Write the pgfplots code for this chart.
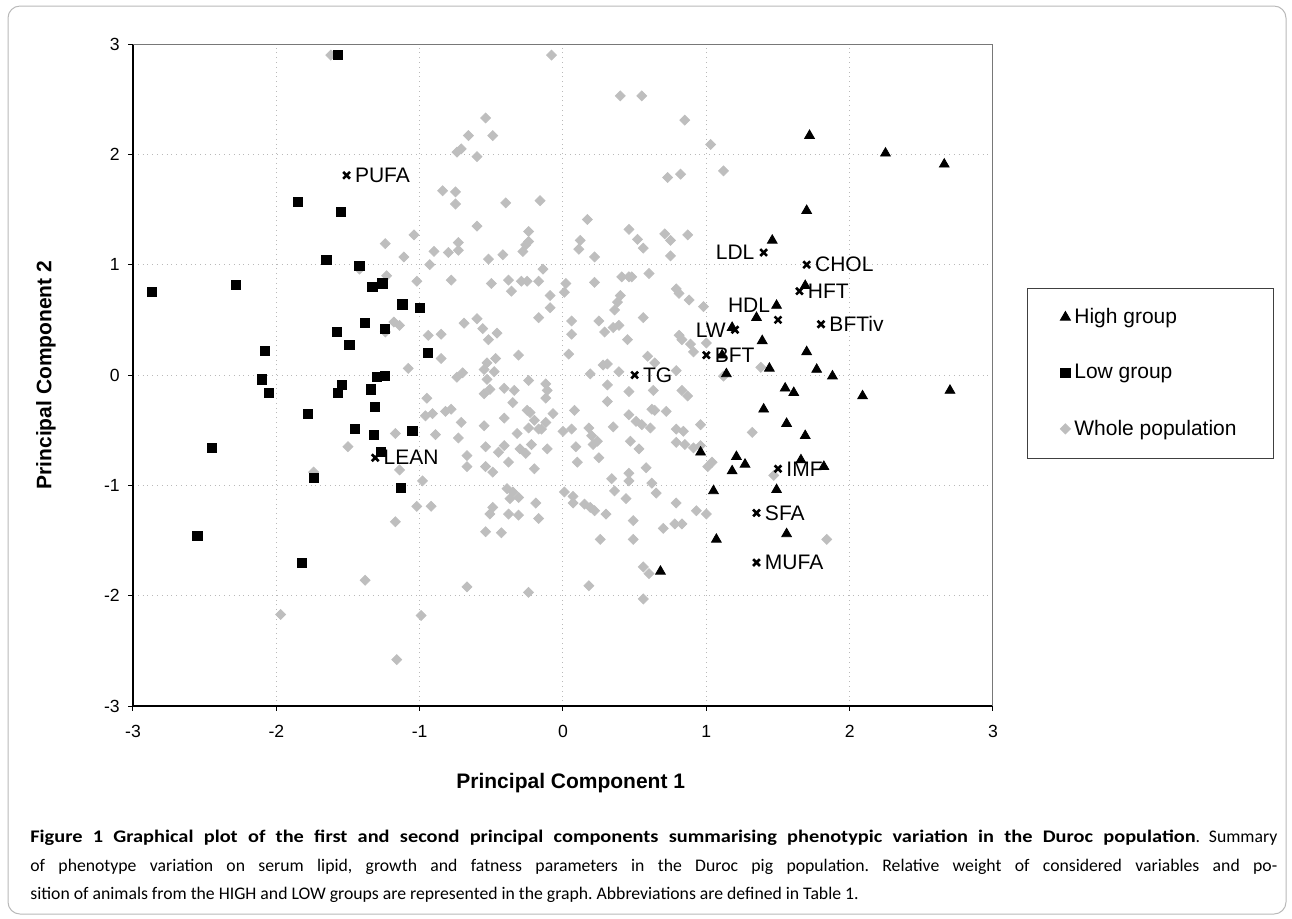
\documentclass[border=0pt]{standalone}
\usepackage{fontspec}
\setmainfont{Liberation Sans}
\newfontfamily\capfont[BoldFeatures={FakeStretch=1.15}]{Carlito}
\usepackage{pgfplots}
\pgfplotsset{compat=1.18}
\definecolor{popgray}{RGB}{190,190,190}
\definecolor{gridgray}{RGB}{185,185,185}
\definecolor{framegray}{RGB}{120,120,120}
\pgfplotsset{mylegimg/.style={legend image code/.code={\draw[##1] plot coordinates {(0pt,0pt)};}}}

\pgfplotstableread{
x y
-1.62 2.90
-0.08 2.90
-0.54 2.33
-0.66 2.17
-0.49 2.17
-0.74 2.02
-0.71 2.05
-0.60 1.98
-0.84 1.67
-0.75 1.66
-0.75 1.55
-0.40 1.56
-0.16 1.58
-0.60 1.35
-0.24 1.30
-1.24 1.19
-1.04 1.27
-1.11 1.07
-0.90 1.12
-0.93 1.00
-0.80 1.11
-0.73 1.13
-0.73 1.20
-0.52 1.05
-0.42 1.09
-0.28 1.12
-0.26 1.18
-0.24 1.21
-1.42 0.96
-1.23 0.90
-1.02 0.85
-0.78 0.86
-0.50 0.83
-0.38 0.86
-0.36 0.76
-0.29 0.85
-0.25 0.85
-0.17 0.85
-0.14 0.96
-0.09 0.72
-0.09 0.61
0.02 0.83
0.01 0.75
-0.17 0.52
-0.60 0.51
-0.69 0.47
-0.56 0.42
-0.52 0.32
-0.46 0.38
-1.18 0.48
-1.14 0.45
-1.24 0.39
-0.94 0.36
-0.85 0.37
-0.31 0.18
0.04 0.19
-0.85 0.15
-0.53 0.11
-0.47 0.15
-1.08 0.06
-0.55 0.05
-0.48 0.03
-0.74 -0.02
-0.70 0.02
-0.53 -0.04
-0.95 -0.21
-0.96 -0.37
-0.91 -0.35
-0.82 -0.33
-0.78 -0.31
-0.71 -0.43
-0.89 -0.54
-0.73 -0.57
-1.17 -0.53
-1.50 -0.65
-0.55 -0.46
-0.41 -0.39
-0.55 -0.17
-0.51 -0.13
-0.41 -0.12
-0.35 -0.25
-0.34 -0.14
-0.32 -0.53
-0.54 -0.65
-0.45 -0.70
-0.41 -0.64
-0.67 -0.73
-0.30 -0.67
-0.26 -0.71
-0.24 -0.05
-0.12 -0.08
-0.11 -0.14
-0.12 -0.21
-0.25 -0.32
-0.23 -0.34
-0.20 -0.41
-0.12 -0.43
-0.07 -0.35
-0.24 -0.48
-0.17 -0.49
-0.15 -0.49
-0.22 -0.63
-0.11 -0.67
-0.20 -0.85
-0.67 -0.83
-0.54 -0.83
-0.49 -0.88
-1.14 -0.86
-1.74 -0.88
-0.98 -0.96
-0.39 -1.03
-0.35 -1.06
-0.37 -1.12
-0.31 -1.11
-0.49 -1.20
-0.51 -1.26
-0.38 -1.26
-0.31 -1.27
-0.19 -1.16
-0.17 -1.30
0.01 -1.06
-1.02 -1.19
-0.92 -1.19
-1.17 -1.33
-0.54 -1.42
-0.43 -1.43
-1.38 -1.86
-0.67 -1.92
-0.24 -1.97
-1.97 -2.17
-0.99 -2.18
-1.16 -2.58
-0.38 -0.79
0.40 2.53
0.55 2.53
0.85 2.31
1.03 2.09
1.12 1.85
0.73 1.79
0.82 1.82
0.17 1.41
0.12 1.22
0.46 1.32
0.52 1.23
0.71 1.28
0.75 1.22
0.87 1.27
0.56 1.15
0.11 1.14
0.22 1.07
0.75 1.08
0.22 0.84
0.41 0.89
0.46 0.89
0.48 0.89
0.60 0.92
0.79 0.78
0.81 0.74
0.88 0.68
0.98 0.62
0.40 0.72
0.38 0.66
0.36 0.59
0.06 0.49
0.06 0.37
0.25 0.49
0.56 0.52
0.29 0.39
0.35 0.43
0.39 0.45
0.45 0.32
0.81 0.36
0.83 0.32
0.89 0.28
0.91 0.21
1.00 0.29
0.31 0.10
0.28 0.09
0.59 0.17
0.64 0.11
0.79 0.04
1.38 0.07
0.19 0.01
0.39 0.03
1.12 -0.01
0.31 -0.09
0.46 -0.15
0.63 -0.14
0.83 -0.14
0.87 -0.19
0.72 -0.33
0.31 -0.24
0.08 -0.32
0.00 -0.51
0.06 -0.49
0.18 -0.48
0.20 -0.55
0.24 -0.60
0.21 -0.63
0.35 -0.47
0.46 -0.36
0.51 -0.42
0.55 -0.45
0.62 -0.31
0.64 -0.32
0.61 -0.48
0.79 -0.49
0.84 -0.51
0.96 -0.45
0.47 -0.60
0.53 -0.67
0.79 -0.61
0.85 -0.63
0.91 -0.66
0.96 -0.64
0.07 -1.10
0.07 -1.16
0.15 -1.17
0.19 -1.20
0.22 -1.23
0.30 -1.26
0.10 -0.79
0.34 -0.94
0.36 -1.05
0.46 -0.89
0.46 -0.96
0.58 -0.84
0.44 -1.12
0.62 -0.98
0.65 -1.07
0.79 -1.16
0.93 -1.23
1.00 -1.26
0.49 -1.32
0.70 -1.39
0.78 -1.35
0.83 -1.35
0.26 -1.49
0.49 -1.49
0.56 -1.74
0.60 -1.80
0.18 -1.91
0.56 -2.03
1.01 -0.83
1.04 -0.79
1.32 -0.52
1.47 -0.91
1.84 -1.49
0.25 -0.75
0.09 -0.65
}\wholepop

\pgfplotstableread{
x y
-1.57 2.90
-1.85 1.57
-1.55 1.48
-1.65 1.04
-1.42 0.99
-2.87 0.75
-2.28 0.82
-1.33 0.80
-1.26 0.83
-1.12 0.64
-1.00 0.61
-1.38 0.47
-1.58 0.39
-1.24 0.42
-1.49 0.27
-2.08 0.22
-0.94 0.20
-2.10 -0.04
-2.05 -0.16
-1.54 -0.09
-1.57 -0.16
-1.30 -0.02
-1.24 -0.01
-1.34 -0.13
-1.31 -0.29
-1.78 -0.35
-1.45 -0.49
-1.32 -0.54
-1.05 -0.51
-2.45 -0.66
-1.27 -0.70
-1.74 -0.93
-1.13 -1.02
-2.55 -1.46
-1.82 -1.70
}\lowgroup

\pgfplotstableread{
x y
1.72 2.17
2.25 2.01
2.66 1.91
1.70 1.49
1.46 1.22
1.69 0.81
1.49 0.63
1.35 0.52
1.18 0.43
1.39 0.31
1.70 0.21
1.11 0.18
1.14 0.01
1.44 0.06
1.77 0.05
1.88 -0.01
1.55 -0.12
1.61 -0.16
2.09 -0.19
2.70 -0.14
1.40 -0.31
1.56 -0.44
1.69 -0.55
0.96 -0.70
1.21 -0.74
1.27 -0.81
1.18 -0.87
1.66 -0.77
1.82 -0.83
1.05 -1.05
1.49 -1.04
1.07 -1.49
1.56 -1.44
0.68 -1.78
}\highgroup

\pgfplotstableread{
x y lab
-1.51 1.81 PUFA
1.70 1.00 CHOL
1.65 0.76 HFT
1.80 0.46 BFTiv
1.00 0.18 BFT
0.50 0.00 TG
1.50 -0.85 IMF
1.35 -1.25 SFA
1.35 -1.70 MUFA
-1.31 -0.75 LEAN
}\varsright

\pgfplotstableread{
x y lab
1.40 1.11 LDL
1.20 0.41 LW
}\varsleft

\pgfplotstableread{
x y lab
1.50 0.50 HDL
}\varsabove

\begin{document}
\begin{tikzpicture}
\path[use as bounding box] (0pt,0pt) rectangle (646pt,-459pt);
\draw[gray!55, line width=0.5pt, rounded corners=6pt] (4pt,-3pt) rectangle (643pt,-457pt);
\begin{axis}[
  at={(66.5pt,-353pt)}, anchor=south west,
  scale only axis, width=430pt, height=331pt,
  xmin=-3, xmax=3, ymin=-3, ymax=3,
  xtick={-3,-2,-1,0,1,2,3}, ytick={-3,-2,-1,0,1,2,3},
  axis x line*=bottom, axis y line*=left,
  axis line style={black, line width=0.9pt, -},
  tick align=outside, tick style={black, line width=0.5pt},
  major tick length=2.3pt,
  grid=major, grid style={gridgray, dotted, line width=0.5pt},
  ticklabel style={font=\fontsize{8.8}{10.5}\selectfont},
  /pgf/number format/assume math mode=true,
  xticklabel style={yshift=-4pt},
  yticklabel style={xshift=-0.8pt},
  xlabel={\textbf{Principal Component 1}},
  ylabel={\textbf{Principal Component 2}},
  label style={font=\fontsize{10.5}{12.6}\selectfont},
  xlabel style={at={(axis description cs:0.509,-0.1163)}, anchor=center},
  ylabel style={at={(axis description cs:-0.1012,0.5)}, anchor=center},
  legend style={at={(1.0395,0.632)}, anchor=north west, draw=black!75, line width=0.5pt,
    font=\fontsize{10.5}{12.6}\selectfont, row sep=15pt, inner xsep=16.5pt, inner ysep=8pt,
    nodes={inner sep=2pt}},
  legend cell align=left,
  reverse legend,
  every node near coord/.append style={font=\fontsize{10.5}{12.6}\selectfont, text=black, inner sep=0pt},
]
\draw[framegray, line width=0.6pt] (rel axis cs:0,1) -- (rel axis cs:1,1) -- (rel axis cs:1,0);

\addplot[only marks, mark=square*, mark size=1.75pt, mark options={rotate=45, fill=popgray, draw=popgray},
  mylegimg] table[x=x,y=y] {\wholepop};
\addlegendentry{Whole population}

\addplot[only marks, mark=square*, mark size=2.3pt, mark options={fill=black, draw=black},
  mylegimg] table[x=x,y=y] {\lowgroup};
\addlegendentry{Low group}

\addplot[only marks, mark=triangle*, mark size=2.8pt, mark options={fill=black, draw=black},
  mylegimg] table[x=x,y=y] {\highgroup};
\addlegendentry{High group}

\addplot[only marks, mark=x, mark size=2.4pt, mark options={line width=1.3pt, draw=black}, forget plot,
  nodes near coords, point meta=explicit symbolic,
  every node near coord/.append style={anchor=west, xshift=3.6pt}]
  table[x=x,y=y,meta=lab] {\varsright};

\addplot[only marks, mark=x, mark size=2.4pt, mark options={line width=1.3pt, draw=black}, forget plot,
  nodes near coords, point meta=explicit symbolic,
  every node near coord/.append style={anchor=east, xshift=-4pt}]
  table[x=x,y=y,meta=lab] {\varsleft};

\addplot[only marks, mark=x, mark size=2.4pt, mark options={line width=1.3pt, draw=black}, forget plot,
  nodes near coords, point meta=explicit symbolic,
  every node near coord/.append style={anchor=south east, xshift=-3.3pt, yshift=3.2pt}]
  table[x=x,y=y,meta=lab] {\varsabove};
\end{axis}

\node[anchor=north west, inner sep=0pt, text width=623.5pt, align=justify,
  font=\capfont\fontsize{8.85}{14.2}\selectfont] at (15pt,-415pt)
  {\frenchspacing\tolerance=9999\emergencystretch=20pt\textbf{Figure 1 Graphical plot of the first and second principal components summarising phenotypic variation in the Duroc population}. Summary\linebreak of phenotype variation on serum lipid, growth and fatness parameters in the Duroc pig population. Relative weight of considered variables and po-\linebreak sition of animals from the HIGH and LOW groups are represented in the graph. Abbreviations are defined in Table 1.};
\end{tikzpicture}
\end{document}
